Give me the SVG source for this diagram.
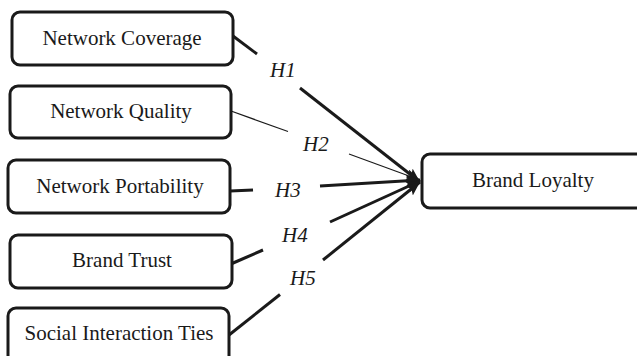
<svg xmlns="http://www.w3.org/2000/svg" width="637" height="356" viewBox="0 0 637 356">
<style>
.box{fill:#fff;stroke:#1a1a1a;stroke-width:3}
.lbl{font-family:Liberation Serif, serif;font-size:21px;fill:#1a1a1a;text-anchor:middle}
.h{font-family:Liberation Serif, serif;font-size:21px;font-style:italic;fill:#1a1a1a}
.c{stroke:#1a1a1a;fill:none;stroke-width:3}
.thin{stroke-width:1.2}
</style>
<defs>
<marker id="ah" markerUnits="userSpaceOnUse" markerWidth="16" markerHeight="12" refX="14" refY="6" orient="auto">
<path d="M0,0 L14,6 L0,12 L3,6 Z" fill="#1a1a1a"/>
</marker>
</defs>
<rect width="637" height="356" fill="#fff"/>
<g id="n1"><rect class="box" x="12" y="12" width="221" height="53" rx="8"/><text class="lbl" x="122" y="45">Network Coverage</text></g>
<g id="n2"><rect class="box" x="10" y="86" width="221" height="52" rx="8"/><text class="lbl" x="121" y="118">Network Quality</text></g>
<g id="n3"><rect class="box" x="8" y="160" width="222" height="53" rx="8"/><text class="lbl" x="120" y="193">Network Portability</text></g>
<g id="n4"><rect class="box" x="10" y="235" width="222" height="53" rx="8"/><text class="lbl" x="122" y="267">Brand Trust</text></g>
<g id="n5"><rect class="box" x="8" y="308" width="221" height="60" rx="8"/><text class="lbl" x="119" y="340">Social Interaction Ties</text></g>
<g id="n6"><rect class="box" x="422" y="154" width="225" height="54" rx="8"/><text class="lbl" x="533" y="187">Brand Loyalty</text></g>
<g id="connectors">
<line class="c" x1="233" y1="36" x2="257" y2="54"/>
<line class="c" x1="300" y1="88" x2="420" y2="182" marker-end="url(#ah)"/>
<line class="c thin" x1="231" y1="111" x2="288" y2="131.5"/>
<line class="c thin" x1="349" y1="154" x2="420" y2="180" marker-end="url(#ah)"/>
<line class="c" x1="230" y1="191" x2="253" y2="190"/>
<line class="c" x1="320" y1="186" x2="420" y2="180" marker-end="url(#ah)"/>
<line class="c" x1="232" y1="263.5" x2="263" y2="250"/>
<line class="c" x1="330" y1="222" x2="420" y2="181" marker-end="url(#ah)"/>
<line class="c" x1="229" y1="335" x2="280" y2="294.5"/>
<line class="c" x1="323" y1="260" x2="420" y2="182" marker-end="url(#ah)"/>
</g>
<g id="labels">
<text class="h" x="270" y="77">H1</text>
<text class="h" x="303" y="151">H2</text>
<text class="h" x="275" y="197">H3</text>
<text class="h" x="282" y="242">H4</text>
<text class="h" x="290" y="285">H5</text>
</g>
</svg>
